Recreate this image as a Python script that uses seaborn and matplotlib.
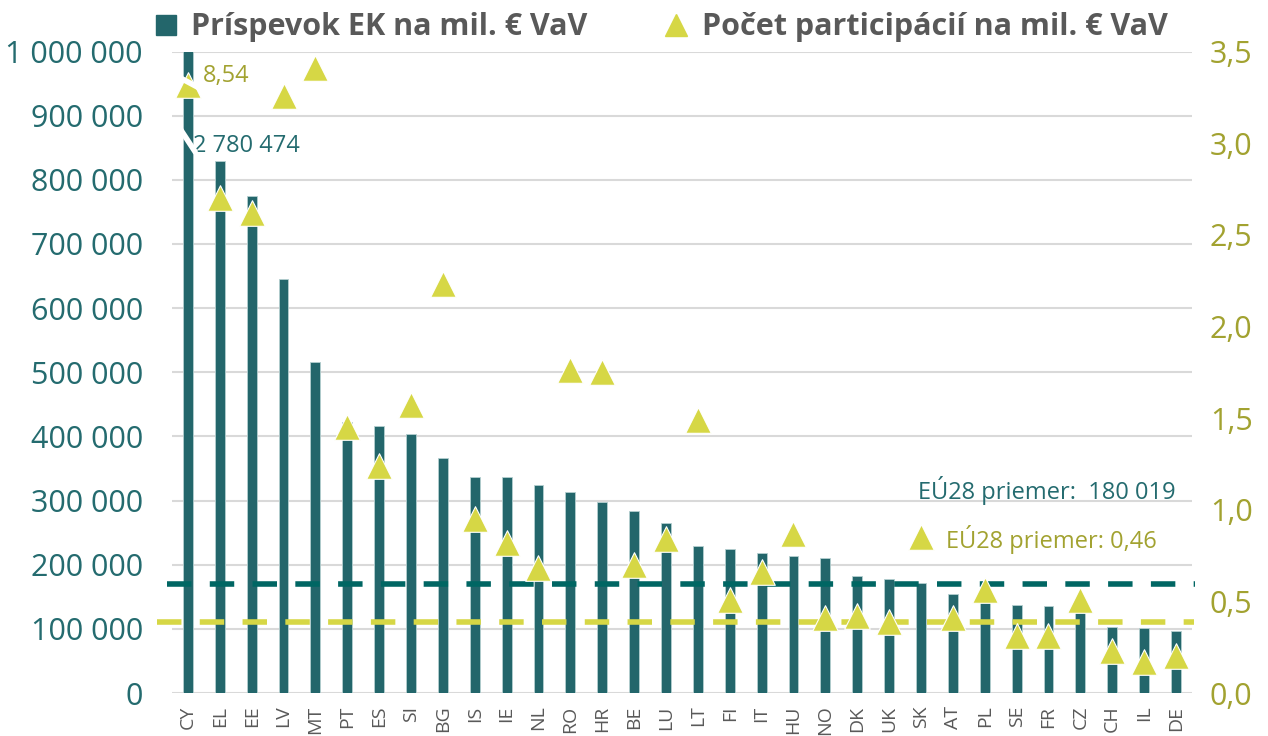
import numpy as np
import pandas as pd
import matplotlib
matplotlib.use('Agg')
import matplotlib.pyplot as plt
from matplotlib.lines import Line2D
from matplotlib.ticker import FuncFormatter
import seaborn as sns

# data
countries = ['CY', 'EL', 'EE', 'LV', 'MT', 'PT', 'ES', 'SI', 'BG', 'IS', 'IE', 'NL', 'RO', 'HR', 'BE', 'LU',
             'LT', 'FI', 'IT', 'HU', 'NO', 'DK', 'UK', 'SK', 'AT', 'PL', 'SE', 'FR', 'CZ', 'CH', 'IL', 'DE']
contribution = [2780474, 829000, 775000, 646000, 516000, 423000, 417000, 403000, 367000, 337000, 337000,
                325000, 314000, 297000, 284000, 265000, 229000, 224000, 219000, 214000, 211000, 183000,
                178000, 172000, 155000, 150000, 137000, 136000, 130000, 103000, 101000, 96000]
participations = [8.54, 2.70, 2.62, 3.26, 3.41, 1.45, 1.24, 1.57, 2.23, 0.95, 0.82, 0.68, 1.76, 1.75, 0.70,
                  0.84, 1.49, 0.51, 0.66, 0.87, 0.41, 0.42, 0.39, 0.85, 0.41, 0.56, 0.31, 0.31, 0.51, 0.23,
                  0.17, 0.20]
avg_line_contribution = 170000   # where the dashed line sits in the picture
avg_line_participation = 0.39
avg_label_contribution = 'EÚ28 priemer:  180 019'
avg_label_participation = 'EÚ28 priemer: 0,46'
cy_label_contribution = '2 780 474'
cy_label_participation = '8,54'
cy_break_level = 3.32            # CY triangle drawn at the axis break

legend_labels = ['Príspevok EK na mil. € VaV', 'Počet participácií na mil. € VaV']

bar_color = '#23666B'
teal_dash = '#006663'
teal_text = '#246B6F'
yellow = '#D6D745'
olive_text = '#A2A230'
gray = '#595959'

sns.set_style('white')
plt.rcParams['font.family'] = ['Open Sans', 'DejaVu Sans']

df = pd.DataFrame({'country': countries, 'contribution': contribution, 'participations': participations})
df['pos'] = np.arange(len(df))
# values above the axis top are shown at the break
df['shown'] = df['participations'].where(df['participations'] <= 3.5, cy_break_level)

fig = plt.figure(figsize=(12.68, 7.36), dpi=100)
ax = fig.add_axes([0.1356, 0.0584, 0.8044, 0.8716])

ax.yaxis.grid(True, color='#D9D9D9', linewidth=1.5)
ax.set_axisbelow(True)
sns.barplot(data=df, x='country', y='contribution', ax=ax, color=bar_color, saturation=1,
            width=0.31, edgecolor='#B5CFD0', linewidth=0.6)
ax.set_xlim(-0.5, len(df) - 0.5)
ax.set_ylim(0, 1000000)
ax.set_yticks(np.arange(0, 1000001, 100000))
ax.yaxis.set_major_formatter(FuncFormatter(lambda v, p: f'{int(v):,}'.replace(',', ' ')))
ax.set_xlabel('')
ax.set_ylabel('')
ax.tick_params(axis='y', labelsize=22, labelcolor=teal_text, length=0, pad=21)
ax.tick_params(axis='x', labelsize=14, labelcolor=gray, length=0, pad=9, rotation=90)
sns.despine(ax=ax, left=True, bottom=True)

# EU average of contribution
ax.plot([-0.65, 31.6], [avg_line_contribution] * 2, color=teal_dash, lw=4,
        dashes=(4.4, 3.3), dash_capstyle='butt', clip_on=False, zorder=3)

# break on CY bar
ax.plot([-0.25, 0.25], [880000, 842000], color='white', lw=4, solid_capstyle='butt', zorder=4)
ax.text(0.15, 853000, cy_label_contribution, color=teal_text, fontsize=17, ha='left', va='center')
ax.text(31.0, 315000, avg_label_contribution, color=teal_text, fontsize=17, ha='right', va='center')

ax2 = ax.twinx()
ax2.plot([-0.97, 31.55], [avg_line_participation] * 2, color=yellow, lw=4,
         dashes=(4.4, 3.3), dash_capstyle='butt', clip_on=False, zorder=1)
sns.scatterplot(data=df, x='pos', y='shown', ax=ax2, marker='^', s=340, color=yellow,
                edgecolor='white', linewidth=0.8, zorder=3, legend=False)
ax2.set_ylim(0, 3.5)
ax2.set_yticks(np.arange(0, 3.51, 0.5))
ax2.yaxis.set_major_formatter(FuncFormatter(lambda v, p: f'{v:.1f}'.replace('.', ',')))
ax2.set_ylabel('')
ax2.tick_params(axis='y', labelsize=22, labelcolor=olive_text, length=0, pad=13)
sns.despine(ax=ax2, left=True, bottom=True, right=True)

# break on CY triangle
ax2.plot([-0.56, 0.44], [3.386, 3.293], color='white', lw=4, solid_capstyle='butt', zorder=4, clip_on=False)
ax2.text(0.47, 3.364, cy_label_participation, color=olive_text, fontsize=17, ha='left', va='center')

# text next to the SK triangle for the participation average
avg_idx = countries.index('SK')
ax2.text(avg_idx + 0.77, 0.84, avg_label_participation, color=olive_text, fontsize=17, ha='left', va='center')

handles = [Line2D([], [], marker='s', color=bar_color, linestyle='none', markersize=14),
           Line2D([], [], marker='^', color=yellow, linestyle='none', markersize=16)]
fig.legend(handles, legend_labels, loc='upper left', bbox_to_anchor=(138 / 1268, 1.0), ncol=2,
           frameon=False, prop={'size': 22, 'weight': 'bold'}, labelcolor=gray,
           handletextpad=0.35, columnspacing=2.4, borderaxespad=0.0, handlelength=1.0)

fig.savefig('out.png', dpi=100)
